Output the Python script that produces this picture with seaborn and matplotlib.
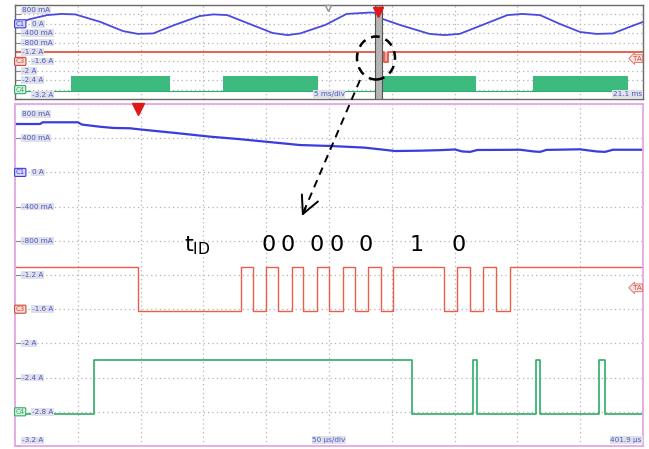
import matplotlib
matplotlib.use("Agg")
import matplotlib.pyplot as plt
import seaborn as sns
import numpy as np
from matplotlib.patches import Ellipse
from matplotlib.lines import Line2D

sns.set_theme(style="white")
plt.rcParams["font.family"] = ["DejaVu Sans"]

# ---------------- overview panel (time in ms, current in A) ----------------
top_blue_t = [-28.9, -27.7, -26.35, -25.2, -24.1, -22.1, -20.3, -19.1, -17.9, -16.2,
              -14.2, -13.1, -12.0, -10.2, -8.4, -7.2, -6.2, -4.2, -2.5, -0.6, 0.0,
              0.24, 1.75, 4.1, 5.3, 6.5, 8.5, 10.3, 11.5, 12.9, 14.5, 16.1, 17.4,
              18.7, 20.0, 21.1]
top_blue_a = [-0.01, 0.20, 0.37, 0.42, 0.40, 0.08, -0.31, -0.43, -0.41, -0.05,
              0.33, 0.40, 0.37, -0.01, -0.39, -0.48, -0.41, -0.05, 0.42, 0.48, 0.46,
              0.23, -0.05, -0.43, -0.48, -0.43, -0.01, 0.37, 0.42, 0.37, -0.01, -0.35,
              -0.43, -0.41, -0.14, 0.08]
top_red_t = [-28.9, 0.08, 0.30, 0.45, 0.79, 21.1]
top_red_a = [-1.19, -1.62, -1.19, -1.62, -1.19, -1.19]
top_green_start = [-24.44, -12.34, 0.32, 12.34]
top_green_end = [-16.56, -4.78, 7.8, 19.9]
top_green_low, top_green_high = -2.85, -2.22
top_green_t = [-28.9, 21.1]
top_green_a = [-2.85, -2.85]
cursor_window = (-0.25, 0.32)
top_right_ms, top_div_ms = 21.1, 5.0
top_marker_ms = -4.0
top_ta_level = -1.48

# ---------------- zoomed panel (time in µs, current in A) ----------------
blue_t = [-98.1, -78.2, -76, -48, -45, -30.4, -20, -6.5, 0, 10, 27.7, 40, 57.2, 80,
          101.7, 128.8, 152.7, 164.6, 180, 192.5, 204.5, 224.4, 240, 252.2, 258,
          264.2, 270, 304, 315, 319.9, 325, 351.7, 365, 371.7, 378, 401.9]
blue_a = [0.566, 0.566, 0.586, 0.586, 0.56, 0.534, 0.52, 0.516, 0.505, 0.49, 0.464,
          0.445, 0.418, 0.39, 0.359, 0.320, 0.309, 0.301, 0.29, 0.270, 0.250, 0.254,
          0.26, 0.268, 0.245, 0.24, 0.262, 0.265, 0.245, 0.24, 0.263, 0.27, 0.245,
          0.24, 0.265, 0.265]
red_t = [-98.1, 0.0, 81.6, 91.2, 101.7, 111.5, 122.2, 131.4, 142.6, 152.1, 162.8,
         172.6, 183.2, 193.1, 203.1, 243.5, 254.1, 264.2, 274.8, 284.9, 296.0, 401.9]
red_a = [-1.11, -1.62, -1.11, -1.62, -1.11, -1.62, -1.11, -1.62, -1.11, -1.62, -1.11,
         -1.62, -1.11, -1.62, -1.11, -1.62, -1.11, -1.62, -1.11, -1.62, -1.11, -1.11]
green_t = [-98.1, -35.2, 217.7, 266.5, 269.5, 316.7, 319.9, 367.1, 371.6, 401.9]
green_a = [-2.82, -2.19, -2.82, -2.19, -2.82, -2.19, -2.82, -2.19, -2.82, -2.82]
bot_right_us, bot_div_us = 401.9, 50.0
trigger_t = 0.0
bot_ta_level = -1.35

# ---------------- labels ----------------
y_ticks = [0.8, 0.4, 0.0, -0.4, -0.8, -1.2, -1.6, -2.0, -2.4, -2.8, -3.2]
y_labels = ["800 mA", "400 mA", "0 A", "-400 mA", "-800 mA", "-1.2 A", "-1.6 A",
            "-2 A", "-2.4 A", "-2.8 A", "-3.2 A"]
channels = ["C1", "C3", "C4"]
channel_levels = [0.0, -1.6, -2.8]
bit_labels = ["0", "0", "0", "0", "0", "1", "0"]
bit_px = [269, 288, 317, 337, 366, 417, 459]

BLUE = "#3b3be0"
RED = "#e8604c"
GREEN = "#2eae68"
LBL = "#4a58c8"

W, H = 649, 449
fig = plt.figure(figsize=(W / 100, H / 100), dpi=100)
fig.patch.set_facecolor("white")


def fx(x):
    return x / W


def fy(y):
    return 1 - y / H


ax_top = fig.add_axes([fx(15), fy(99), 628 / W, 94 / H])
ax_bot = fig.add_axes([fx(15), fy(446), 628 / W, 342 / H])


def style_axes(ax, right, div, edge, lw):
    ax.set_xlim(right - 10 * div, right)
    ax.set_ylim(-3.2, 0.8)
    ax.set_xticks([right - 10 * div + k * div for k in range(11)])
    ax.set_yticks(y_ticks)
    ax.set_xticklabels([])
    ax.set_yticklabels([])
    ax.set_xlabel("")
    ax.set_ylabel("")
    ax.grid(True, color="#b4b4b4", linestyle=(0, (1, 2.5)), linewidth=0.9)
    ax.tick_params(axis="y", left=True, direction="in", length=4, color="#8c8c8c", width=0.8)
    ax.tick_params(axis="x", bottom=False)
    for s in ax.spines.values():
        s.set_color(edge)
        s.set_linewidth(lw)
    ax.set_facecolor("white")


# ---------------- top panel ----------------
for s, e in zip(top_green_start, top_green_end):
    ax_top.fill_between([s, e], top_green_low, top_green_high, color="#3dbb7e", lw=0)
sns.lineplot(x=top_green_t, y=top_green_a, ax=ax_top, color=GREEN, lw=0.8,
             estimator=None, sort=False)
sns.lineplot(x=top_red_t, y=top_red_a, ax=ax_top, color=RED, lw=1.4,
             drawstyle="steps-post", estimator=None, sort=False)
ax_top.fill_between([top_red_t[1], top_red_t[4]], top_red_a[1], top_red_a[0],
                    color="#eaa0a0", lw=0, alpha=0.9)
ax_top.axvspan(*cursor_window, facecolor="#b4b4b4", edgecolor="#555555", lw=0.8, zorder=3)
sns.lineplot(x=top_blue_t, y=top_blue_a, ax=ax_top, color="#4a4ae0", lw=1.3,
             estimator=None, sort=False)
style_axes(ax_top, top_right_ms, top_div_ms, "#6a6a6a", 1.0)
ax_top.plot([trigger_t], [0.93], marker="v", ms=7, color="#e01818",
            transform=ax_top.get_xaxis_transform(), clip_on=False, zorder=5)
ax_top.plot([top_marker_ms], [0.97], marker="v", ms=5, mfc="white", mec="#909090",
            transform=ax_top.get_xaxis_transform(), clip_on=False, zorder=5)

# ---------------- bottom panel ----------------
sns.lineplot(x=green_t, y=green_a, ax=ax_bot, color=GREEN, lw=1.2,
             drawstyle="steps-post", estimator=None, sort=False)
sns.lineplot(x=red_t, y=red_a, ax=ax_bot, color=RED, lw=1.0,
             drawstyle="steps-post", estimator=None, sort=False)
sns.lineplot(x=blue_t, y=blue_a, ax=ax_bot, color=BLUE, lw=1.6,
             estimator=None, sort=False)
style_axes(ax_bot, bot_right_us, bot_div_us, "#e6a6e6", 1.3)
ax_bot.plot([trigger_t], [0.985], marker="v", ms=8, color="#e01818",
            transform=ax_bot.get_xaxis_transform(), clip_on=False, zorder=5)

# ---------------- scope labels ----------------
box = dict(boxstyle="square,pad=0.12", fc="#dfe0e8", ec="none")
for ax, skip in ((ax_top, ["400 mA", "-2.8 A"]), (ax_bot, [])):
    tr = ax.get_yaxis_transform()
    for v, lab in zip(y_ticks, y_labels):
        if lab in skip:
            continue
        va = "center"
        yv = v
        xoff = 0.011
        if v in channel_levels:
            xoff = 0.027
        if v == y_ticks[0]:
            va = "top"
            yv = v - 0.08
        elif v == y_ticks[-1]:
            va = "bottom"
            yv = v + 0.03
            if ax is ax_top:
                xoff = 0.027
        ax.text(xoff, yv, lab, transform=tr, fontsize=5.2, color=LBL, va=va,
                ha="left", bbox=box, zorder=6)
    for ch, lvl, col, fc in zip(channels, channel_levels, [BLUE, "#d04a3a", GREEN],
                               ["#d8d8f4", "#f6dcd8", "#d8f0e0"]):
        ax.text(0.001, lvl, ch, transform=tr, fontsize=5.0, color=col, va="center",
                ha="left", zorder=7,
                bbox=dict(boxstyle="round,pad=0.15", fc=fc, ec=col, lw=0.8))
    ax.text(0.998, bot_ta_level if ax is ax_bot else top_ta_level, "TA", transform=tr,
            fontsize=5.2, color="#d04a3a", va="center", ha="right", zorder=7,
            bbox=dict(boxstyle="larrow,pad=0.12", fc="#f8e2e2", ec="#e07a6a", lw=0.7))

ax_top.text(0.5, 0.02, "5 ms/div", transform=ax_top.transAxes, fontsize=5.2, color=LBL,
            ha="center", va="bottom", bbox=box, zorder=6)
ax_top.text(0.998, 0.02, "21.1 ms", transform=ax_top.transAxes, fontsize=5.2, color=LBL,
            ha="right", va="bottom", bbox=box, zorder=6)
ax_bot.text(0.5, 0.008, "50 µs/div", transform=ax_bot.transAxes, fontsize=5.2, color=LBL,
            ha="center", va="bottom", bbox=box, zorder=6)
ax_bot.text(0.998, 0.008, "401.9 µs", transform=ax_bot.transAxes, fontsize=5.2, color=LBL,
            ha="right", va="bottom", bbox=box, zorder=6)

# ---------------- annotations ----------------
fig.text(fx(197), fy(246), r"$\mathregular{t_{ID}}$", fontsize=16, ha="center",
         va="center", color="black")
for b, x in zip(bit_labels, bit_px):
    fig.text(fx(x), fy(245), b, fontsize=16, ha="center", va="center", color="black")

fig.add_artist(Ellipse((fx(376), fy(58)), 38 / W, 43 / H, transform=fig.transFigure,
                       fill=False, ec="black", lw=1.8, ls=(0, (3.5, 2.5)), zorder=10))
fig.add_artist(Line2D([fx(360), fx(304)], [fy(80), fy(211)], transform=fig.transFigure,
                      color="black", lw=1.4, ls=(0, (4, 3)), zorder=10))
ax_bot.annotate("", xy=(fx(302), fy(216)), xytext=(fx(305.5), fy(208)),
                xycoords="figure fraction", textcoords="figure fraction",
                annotation_clip=False,
                arrowprops=dict(arrowstyle="->,head_length=0.9,head_width=0.45",
                                color="black", lw=1.4, mutation_scale=14,
                                shrinkA=0, shrinkB=0))

fig.savefig("out.png", dpi=100, facecolor="white")
